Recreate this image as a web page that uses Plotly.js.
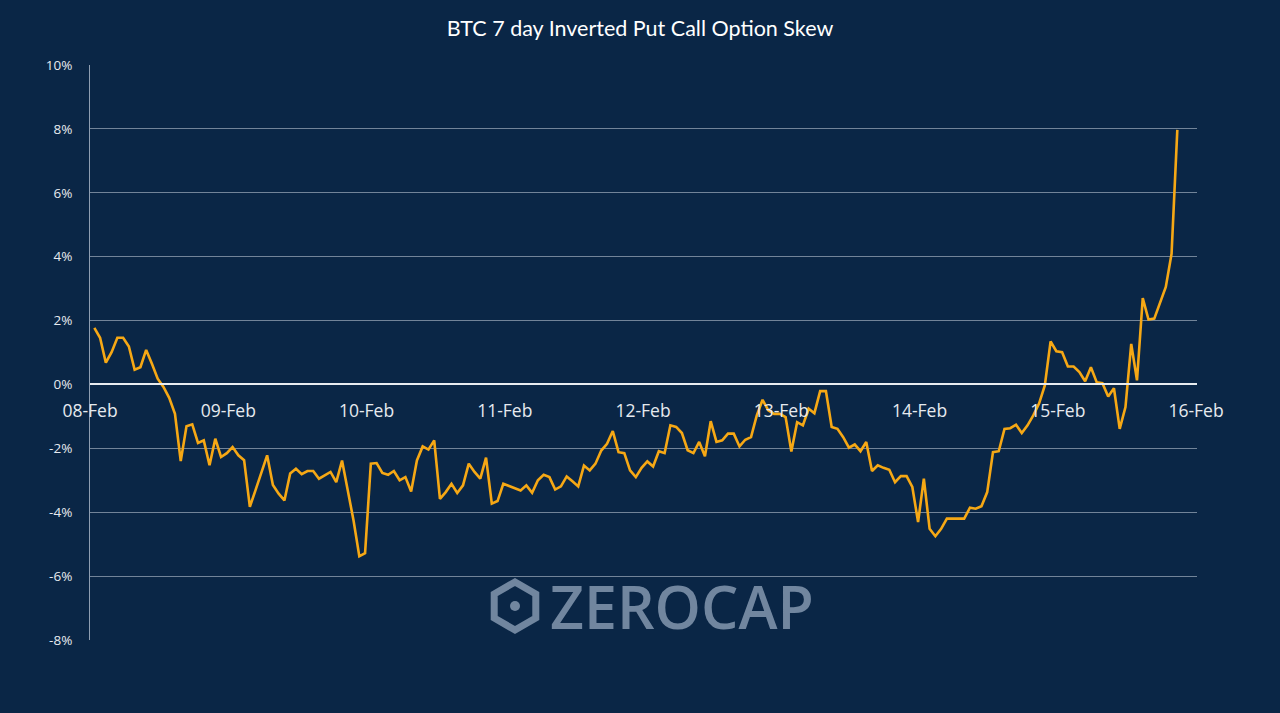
<!DOCTYPE html>
<html>
<head>
<meta charset="utf-8">
<script src="https://cdn.plot.ly/plotly-3.0.1.min.js"></script>
<style>
  html, body { margin: 0; padding: 0; background: #0a2646; }
  #chart { width: 1280px; height: 713px; }
</style>
</head>
<body>
<div id="chart"></div>
<script>
// Hourly observations starting 08-Feb 00:45
const startTime = "2022-02-08T00:45:00";
const stepMinutes = 60;
const skewPct = [1.77,1.46,0.68,1.01,1.46,1.46,1.19,0.46,0.54,1.08,0.65,0.18,-0.08,-0.42,-0.92,-2.40,-1.31,-1.25,-1.83,-1.75,-2.53,-1.70,-2.27,-2.15,-1.96,-2.22,-2.37,-3.83,-3.30,-2.75,-2.22,-3.15,-3.42,-3.63,-2.79,-2.64,-2.81,-2.71,-2.71,-2.95,-2.85,-2.74,-3.06,-2.38,-3.32,-4.26,-5.38,-5.28,-2.48,-2.46,-2.77,-2.83,-2.71,-3.00,-2.90,-3.35,-2.38,-1.94,-2.04,-1.75,-3.58,-3.37,-3.11,-3.40,-3.16,-2.48,-2.74,-2.95,-2.29,-3.73,-3.65,-3.11,-3.18,-3.24,-3.32,-3.16,-3.39,-3.00,-2.83,-2.90,-3.29,-3.19,-2.88,-3.03,-3.19,-2.54,-2.69,-2.48,-2.07,-1.86,-1.46,-2.12,-2.15,-2.69,-2.90,-2.61,-2.41,-2.57,-2.09,-2.15,-1.28,-1.33,-1.52,-2.06,-2.15,-1.80,-2.25,-1.15,-1.80,-1.75,-1.54,-1.54,-1.94,-1.73,-1.65,-0.97,-0.48,-0.81,-0.92,-0.92,-1.02,-2.10,-1.18,-1.28,-0.76,-0.90,-0.21,-0.21,-1.33,-1.39,-1.65,-1.98,-1.88,-2.09,-1.80,-2.71,-2.53,-2.61,-2.67,-3.06,-2.87,-2.87,-3.21,-4.31,-2.95,-4.52,-4.75,-4.52,-4.20,-4.20,-4.20,-4.20,-3.86,-3.89,-3.81,-3.37,-2.12,-2.09,-1.39,-1.37,-1.26,-1.52,-1.28,-0.97,-0.60,-0.03,1.35,1.04,1.01,0.56,0.56,0.39,0.10,0.54,0.07,0.04,-0.38,-0.12,-1.39,-0.71,1.27,0.13,2.70,2.03,2.06,2.54,3.05,4.09,7.97];
const yTickVals = [-8,-6,-4,-2,0,2,4,6,8,10];
const yTickText = ["-8%","-6%","-4%","-2%","0%","2%","4%","6%","8%","10%"];
const xRange = ["2022-02-08 00:00:00", "2022-02-16 00:10:00"];
const chartTitle = "BTC 7 day Inverted Put Call Option Skew";
const watermark = "ZEROCAP";

function pad(n){ return (n<10?"0":"")+n; }
const t0 = new Date(startTime + "Z").getTime();
const times = skewPct.map((_, i) => {
  const d = new Date(t0 + i*stepMinutes*60000);
  return d.getUTCFullYear()+"-"+pad(d.getUTCMonth()+1)+"-"+pad(d.getUTCDate())+" "+pad(d.getUTCHours())+":"+pad(d.getUTCMinutes())+":00";
});

const bg = "#0a2646";
const wmColor = "#71869f";

// plot area in px: left 90, right 1197, top 65, bottom 640
const L = 90, R = 1197, T = 65, B = 640;
const px = x => (x - L) / (R - L);
const py = y => (B - y) / (B - T);
const cx = 515, cy = 606, rad = 24;
const hex = [[cx, cy-rad],[cx+rad*0.866, cy-rad/2],[cx+rad*0.866, cy+rad/2],[cx, cy+rad],[cx-rad*0.866, cy+rad/2],[cx-rad*0.866, cy-rad/2]];
const hexPath = "M " + hex.map(p => px(p[0]).toFixed(5)+","+py(p[1]).toFixed(5)).join(" L ") + " Z";

const trace = {
  x: times, y: skewPct, type: "scatter", mode: "lines",
  line: { color: "#f6a815", width: 2.6 },
  hoverinfo: "skip"
};

const layout = {
  width: 1280, height: 713,
  paper_bgcolor: bg, plot_bgcolor: bg,
  margin: { l: L, r: 1280 - R, t: T, b: 713 - B },
  showlegend: false,
  title: { text: chartTitle, x: 0.5, xanchor: "center", y: 0.96, yanchor: "middle",
           font: { family: "Lato, 'Open Sans', sans-serif", size: 21.5, color: "#ffffff" } },
  xaxis: {
    type: "date", range: xRange,
    tickformat: "%d-%b", dtick: 86400000, tick0: "2022-02-08",
    showgrid: false, zeroline: false,
    showline: true, linecolor: "#e8ecf0", linewidth: 2,
    anchor: "free", position: (B - 384) / (B - T),
    ticks: "", ticklabelstandoff: 11,
    tickfont: { family: "'Open Sans', sans-serif", size: 17.5, color: "#e6eaef" }
  },
  yaxis: {
    range: [-8, 10], tickvals: yTickVals, ticktext: yTickText,
    showgrid: true, gridcolor: "rgba(200,210,222,0.55)", gridwidth: 1,
    zeroline: false,
    showline: true, linecolor: "rgba(200,210,222,0.7)", linewidth: 1,
    ticks: "", ticklabelstandoff: 14,
    tickfont: { family: "'Open Sans', sans-serif", size: 13.5, color: "#e6eaef" }
  },
  shapes: [
    { type: "path", xref: "paper", yref: "paper", path: hexPath,
      line: { color: wmColor, width: 7 }, fillcolor: "rgba(0,0,0,0)", layer: "above" },
    { type: "circle", xref: "paper", yref: "paper",
      x0: px(cx-5), x1: px(cx+5), y0: py(cy+5), y1: py(cy-5),
      line: { width: 0 }, fillcolor: wmColor, layer: "above" }
  ],
  annotations: [
    { text: watermark, xref: "paper", yref: "paper", x: px(548), y: py(606),
      xanchor: "left", yanchor: "middle", showarrow: false,
      font: { family: "'Open Sans', sans-serif", size: 59, color: wmColor, weight: 600 } }
  ]
};

Plotly.newPlot("chart", [trace], layout, { displayModeBar: false, staticPlot: true });
</script>
</body>
</html>
